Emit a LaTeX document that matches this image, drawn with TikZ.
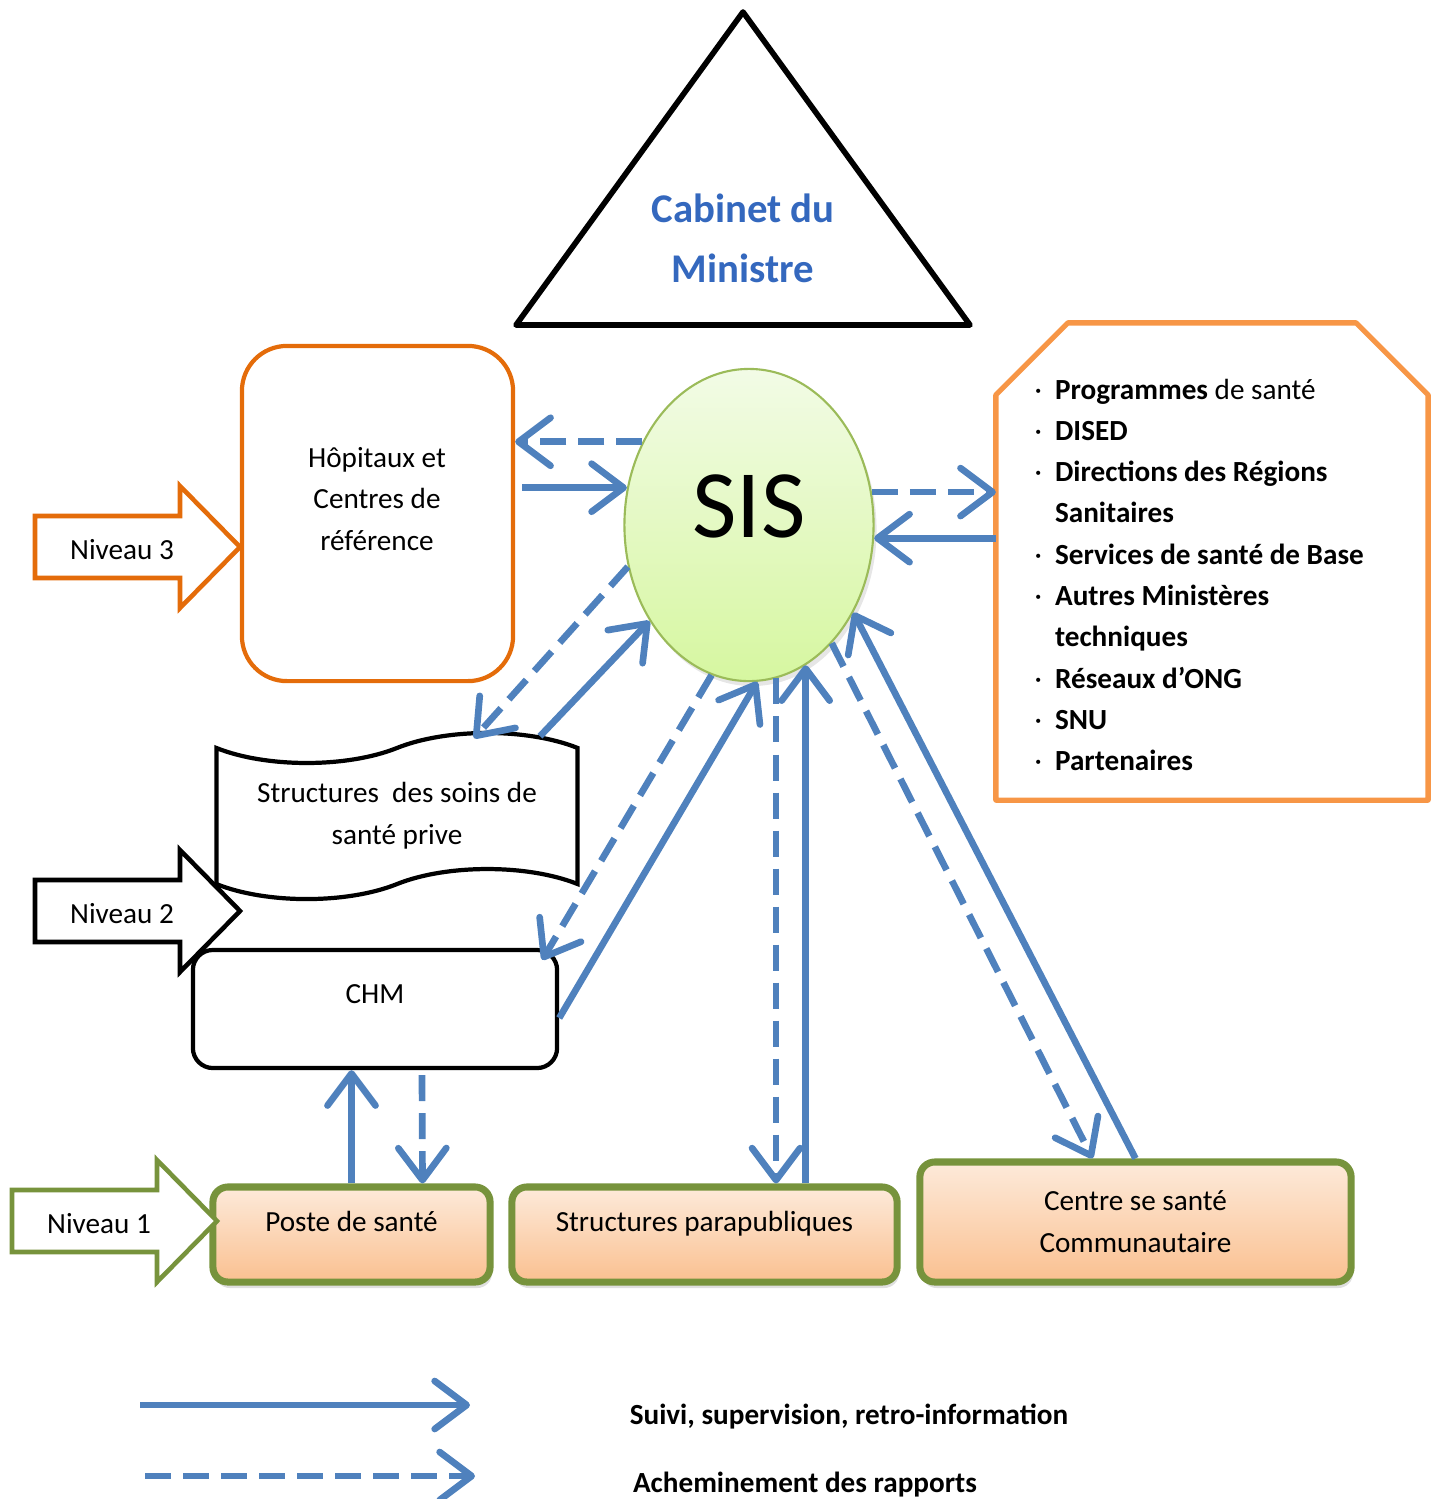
\documentclass[tikz,border=0pt]{standalone}
\usepackage{fontspec}
\setmainfont{Carlito}
\usepackage{tikz}
\usetikzlibrary{positioning,arrows.meta,calc,shapes.geometric,shapes.symbols,shadows}

\definecolor{blueA}{RGB}{79,129,189}
\definecolor{orangeH}{RGB}{228,108,10}
\definecolor{orangeP}{RGB}{247,150,70}
\definecolor{greenN}{RGB}{119,147,60}
\definecolor{sisG}{RGB}{155,187,89}
\definecolor{sisTop}{RGB}{242,251,230}
\definecolor{sisBot}{RGB}{214,247,160}
\definecolor{peachT}{RGB}{253,234,218}
\definecolor{peachB}{RGB}{250,192,144}
\definecolor{cabBlue}{RGB}{52,104,190}

\begin{document}
\begin{tikzpicture}[
  x=0.01cm, y=-0.01cm,
  font=\fontsize{8.3}{11.9}\selectfont,
  hopbox/.style={draw=orangeH, line width=1.2pt, rounded corners=0.45cm,
                 minimum width=2.71cm, minimum height=3.35cm},
  partline/.style={draw=orangeP, line width=1.5pt, line join=round},
  chmbox/.style={draw=black, line width=1.2pt, rounded corners=0.2cm,
                 minimum width=3.64cm, minimum height=1.18cm},
  tapebox/.style={tape, draw=black, line width=1.2pt, align=center, tape bend height=0.3cm,
                  minimum width=3.61cm, minimum height=1.66cm},
  basebox/.style={draw=greenN, line width=2pt, rounded corners=0.15cm, align=center,
                  top color=peachT, bottom color=peachB, minimum height=0.95cm,
                  drop shadow={opacity=0.25, shadow xshift=0.02cm, shadow yshift=-0.06cm}},
  sisnode/.style={ellipse, draw=sisG, line width=0.6pt, top color=sisTop, bottom color=sisBot,
                  minimum width=2.49cm, minimum height=3.12cm,
                  drop shadow={opacity=0.2, shadow xshift=0.03cm, shadow yshift=-0.05cm}},
  lvlarrow/.style={line width=1.3pt, fill=white},
  arr/.style={-{Straight Barb[length=3.2mm, width=4.8mm, round]}, line width=1.9pt, blueA},
  darr/.style={arr, dash pattern=on 2.6mm off 1.2mm},
  legtxt/.style={font=\fontsize{8.3}{11.9}\selectfont\bfseries}
]
\useasboundingbox (0,0) rectangle (1437,1499);
% ----- top: cabinet -----
\draw[line width=1.6pt, line join=round] (743,12) -- (970,325) -- (516,325) -- cycle;
\node[align=center, text=cabBlue, font=\fontsize{11.6}{17}\selectfont\bfseries] (cab) at (743,238) {Cabinet du\\Ministre};
% ----- central SIS -----
\node[sisnode] (sis) at (749,525) {};
\node (sistxt) at (749,506) {\fontsize{27.5}{30}\selectfont SIS};
% ----- niveau 3 / partners -----
\node[hopbox] (hop) at (377.5,513.5) {};
\node[align=center] (hoptxt) at (377,499) {Hôpitaux et\\Centres de\\référence};
\node[inner sep=0pt, outer sep=0pt, minimum width=4.32cm, minimum height=4.77cm] (part) at (1212,561.5) {};
\draw[partline] (part.south west) -- ($(part.north west)+(0,72)$) -- ($(part.north west)+(72,0)$)
  -- ($(part.north east)+(-72,0)$) -- ($(part.north east)+(0,72)$) -- (part.south east) -- cycle;
\node[anchor=base west, inner sep=0pt] (plist) at (1034,399) {\fontsize{8.3}{11.75}\selectfont
  \begin{tabular}[t]{@{}l@{\hspace{0.13cm}}l@{}}
  · & \textbf{Programmes} de santé\\
  · & \textbf{DISED}\\
  · & \textbf{Directions des Régions}\\
    & \textbf{Sanitaires}\\
  · & \textbf{Services de santé de Base}\\
  · & \textbf{Autres Ministères}\\
    & \textbf{techniques}\\
  · & \textbf{Réseaux d’ONG}\\
  · & \textbf{SNU}\\
  · & \textbf{Partenaires}
  \end{tabular}};
% ----- niveau 2 -----
\node[tapebox] (priv) at (397,816) {Structures~ des soins de\\santé prive};
\node[chmbox] (chm) at (375,1009) {};
\node (chmtxt) at (375,994) {CHM};
% ----- niveau 1 -----
\node[basebox, minimum width=2.77cm, text depth=0.27cm] (poste) at (351.5,1234.5) {Poste de santé};
\node[basebox, minimum width=3.85cm, text depth=0.27cm] (para)  at (704.5,1234.5) {Structures parapubliques};
\node[basebox, minimum width=4.31cm, minimum height=1.2cm] (centre) at (1135.5,1222) {Centre se santé\\Communautaire};
% ----- level arrows -----
\foreach \xa/\ya/\col/\num in {35/547/orangeH/3, 35/911/black/2, 12/1221/greenN/1}{
  \draw[lvlarrow, draw=\col] (\xa,\ya-31) -- (\xa+145,\ya-31) -- (\xa+145,\ya-61) -- (\xa+205,\ya)
    -- (\xa+145,\ya+61) -- (\xa+145,\ya+31) -- (\xa,\ya+31) -- cycle;
  \node (niv\num) at (\xa+87,\ya+3) {Niveau \num};
}
% ----- connectors -----
\draw[darr] (sis.142) -- (sis.142 -| hop.east);
\draw[arr, shorten <=0.07cm] (sis.163 -| hop.east) -- (sis.163);
\draw[darr] (sis.15) -- (sis.15 -| part.west);
\draw[arr] (sis.-6 -| part.west) -- (sis.-6);
\draw[darr] (sis.199) -- ($(priv.north)+(77,-8)$);
\draw[arr] ($(priv.north)+(143,-10)$) -- (sis.224);
\draw[darr] (sis.256) -- ($(chm.north east)+(-17,12)$);
\draw[arr] ($(chm.east)+(0,9)$) -- (sis.273);
\draw[darr] (sis.280) -- (sis.280 |- para.north);
\draw[arr] (sis.292 |- para.north) -- (sis.292);
\draw[darr] (sis.305) -- ($(centre.north)+(-43,0)$);
\draw[arr] (centre.north) -- (sis.320);
\draw[arr] (poste.north) -- (poste.north |- chm.south);
\draw[darr] ($(chm.south)+(47,5)$) -- ($(poste.north)+(71,0)$);
% ----- legend -----
\coordinate (l1a) at (140,1405);
\coordinate (l1b) at (470,1405);
\coordinate (l2a) at (145,1476);
\coordinate (l2b) at (475,1476);
\draw[arr] (l1a) -- (l1b);
\draw[darr] (l2a) -- (l2b);
\node[legtxt] (leg1) at (849,1417) {Suivi, supervision, retro-information};
\node[legtxt] (leg2) at (805,1485) {Acheminement des rapports};
\end{tikzpicture}
\end{document}
